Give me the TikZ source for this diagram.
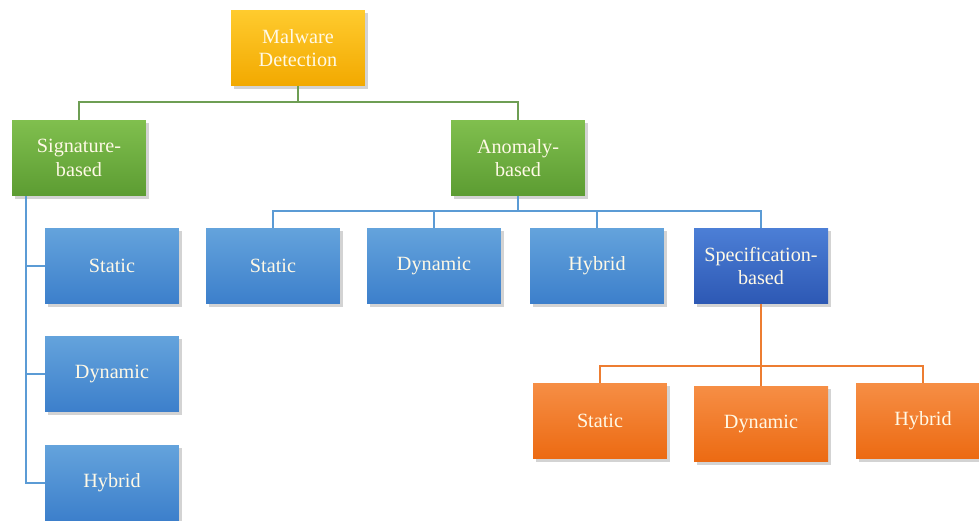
\documentclass[tikz,border=0pt]{standalone}
\usepackage{fontspec}
\setmainfont{Liberation Serif}
\usetikzlibrary{shadows}

\definecolor{goldtop}{HTML}{FFCB2E}
\definecolor{goldbot}{HTML}{F2A900}
\definecolor{greentop}{HTML}{80BF4E}
\definecolor{greenbot}{HTML}{5C9C32}
\definecolor{bluetop}{HTML}{64A3DC}
\definecolor{bluebot}{HTML}{3C7FCB}
\definecolor{spectop}{HTML}{4C7FD6}
\definecolor{specbot}{HTML}{2D58B4}
\definecolor{orangetop}{HTML}{F68E45}
\definecolor{orangebot}{HTML}{EC6A12}
\definecolor{greenline}{HTML}{6E9E54}
\definecolor{blueline}{HTML}{5B9BD5}
\definecolor{orangeline}{HTML}{ED7D31}
\definecolor{boxtext}{HTML}{FFF9E6}

\tikzset{
  box/.style={minimum width=2.68cm, minimum height=1.52cm, align=center,
    text=boxtext, font=\fontsize{11.5}{13.5}\selectfont, inner sep=1pt,
    drop shadow={shadow xshift=1.5pt, shadow yshift=-1.5pt, opacity=0.35}},
  goldbox/.style={box, top color=goldtop, bottom color=goldbot},
  greenbox/.style={box, top color=greentop, bottom color=greenbot},
  bluebox/.style={box, top color=bluetop, bottom color=bluebot},
  specbox/.style={box, top color=spectop, bottom color=specbot},
  orangebox/.style={box, top color=orangetop, bottom color=orangebot},
  link/.style={line width=1.2pt}
}

\begin{document}
\begin{tikzpicture}[x=0.02cm, y=-0.02cm]
  \useasboundingbox (0,0) rectangle (979,520);

  % top levels
  \node[goldbox] (mal) at (298,48) {Malware\\Detection};
  \node[greenbox] (sig) at (79,158) {Signature-\\based};
  \node[greenbox] (ano) at (518,158) {Anomaly-\\based};

  % anomaly children
  \node[bluebox] (anostat) at (273,266) {Static};
  \node[bluebox] (anodyn) at (434,266) {Dynamic};
  \node[bluebox] (anohyb) at (597,266) {Hybrid};
  \node[specbox] (spec) at (761,266) {Specification-\\based};

  % signature children
  \node[bluebox] (sigstat) at (112,266) {Static};
  \node[bluebox] (sigdyn) at (112,374) {Dynamic};
  \node[bluebox] (sighyb) at (112,483) {Hybrid};

  % specification children
  \node[orangebox] (specstat) at (600,421) {Static};
  \node[orangebox] (specdyn) at (761,424) {Dynamic};
  \node[orangebox] (spechyb) at (923,421) {Hybrid};

  \coordinate (gbar) at (0,102);
  \coordinate (bbar) at (0,211);
  \coordinate (obar) at (0,366);
  \coordinate (sbar) at (26,0);

  \draw[link, greenline] (mal.south) -- (mal.south |- gbar) -| (sig.north);
  \draw[link, greenline] (mal.south |- gbar) -| (ano.north);

  \draw[link, blueline] (ano.south) -- (ano.south |- bbar);
  \draw[link, blueline] (anostat.north) |- (ano.south |- bbar) -| (spec.north);
  \draw[link, blueline] (anodyn.north) -- (anodyn.north |- bbar);
  \draw[link, blueline] (anohyb.north) -- (anohyb.north |- bbar);

  \draw[link, blueline] (sig.south -| sbar) |- (sighyb.west);
  \draw[link, blueline] (sbar |- sigstat.west) -- (sigstat.west);
  \draw[link, blueline] (sbar |- sigdyn.west) -- (sigdyn.west);

  \draw[link, orangeline] (spec.south) -- (specdyn.north);
  \draw[link, orangeline] (specstat.north) |- (spec.south |- obar) -| (spechyb.north);
\end{tikzpicture}
\end{document}
